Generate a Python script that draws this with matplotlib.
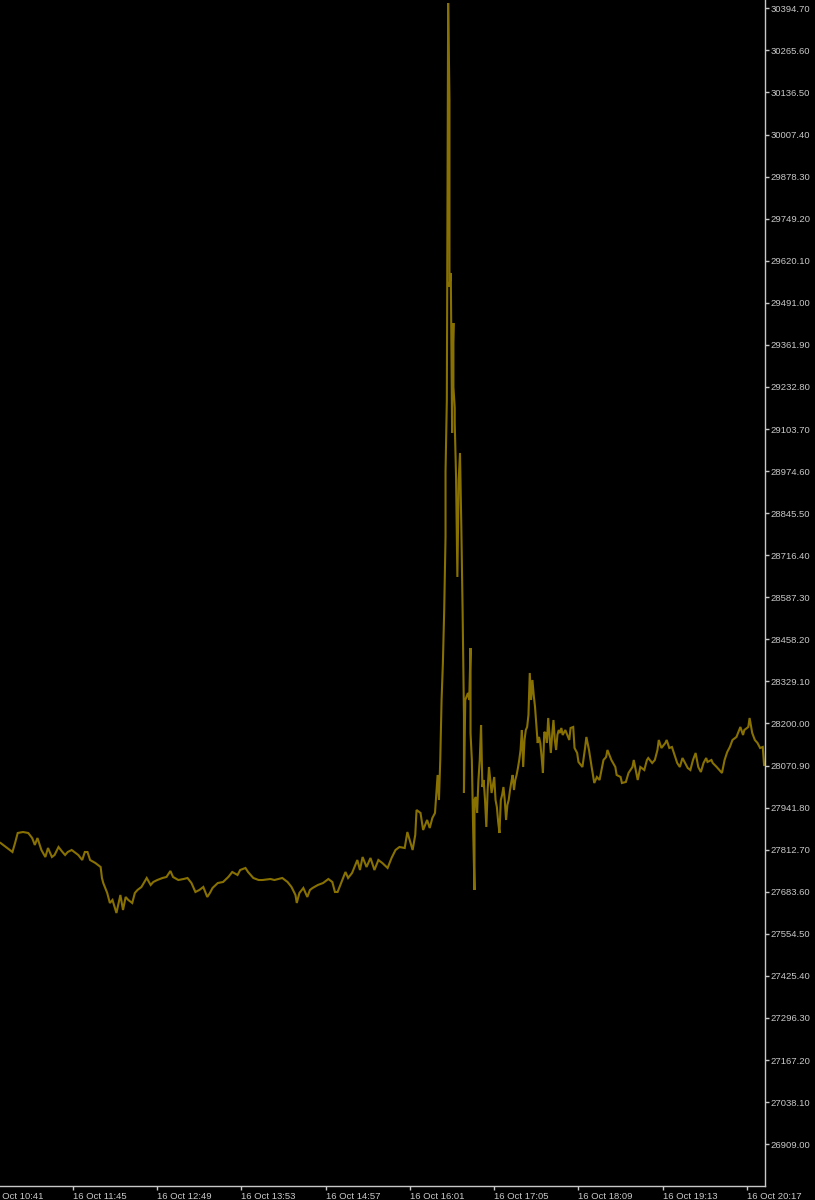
import matplotlib.pyplot as plt

# 1-minute close prices (16 Oct)
times = [
    "10:50", "10:52", "10:55", "10:57", "10:59", "11:01", "11:03", "11:07", "11:11", "11:14",
    "11:16", "11:18", "11:21", "11:24", "11:26", "11:29", "11:31", "11:34", "11:37", "11:39",
    "11:41", "11:44", "11:47", "11:49", "11:52", "11:54", "11:56", "11:58", "12:02", "12:06",
    "12:07", "12:08", "12:11", "12:13", "12:15", "12:18", "12:21", "12:23", "12:25", "12:27",
    "12:30", "12:32", "12:34", "12:37", "12:41", "12:44", "12:46", "12:49", "12:53", "12:56",
    "12:59", "13:01", "13:05", "13:09", "13:12", "13:15", "13:18", "13:21", "13:24", "13:27",
    "13:29", "13:31", "13:35", "13:39", "13:43", "13:46", "13:50", "13:52", "13:56", "13:58",
    "14:02", "14:06", "14:09", "14:15", "14:18", "14:24", "14:28", "14:31", "14:34", "14:35",
    "14:37", "14:40", "14:43", "14:45", "14:47", "14:51", "14:55", "14:59", "15:02", "15:04",
    "15:06", "15:09", "15:12", "15:14", "15:17", "15:21", "15:23", "15:25", "15:28", "15:31",
    "15:34", "15:37", "15:40", "15:44", "15:47", "15:50", "15:53", "15:57", "15:59", "16:03",
    "16:05", "16:06", "16:09", "16:11", "16:14", "16:16", "16:18", "16:20",
    # the spike
    "16:22", "16:23", "16:24", "16:25", "16:26", "16:27", "16:28", "16:28", "16:29", "16:30",
    "16:31", "16:31", "16:32", "16:33", "16:33", "16:34", "16:34", "16:35", "16:35", "16:36",
    "16:37", "16:38", "16:39", "16:40", "16:41", "16:42", "16:42", "16:43", "16:45", "16:46",
    "16:47", "16:47", "16:48", "16:49", "16:50", "16:50", "16:51",
    # aftermath
    "16:52", "16:53", "16:54", "16:55", "16:56", "16:57", "16:58", "16:59", "17:00", "17:01",
    "17:02", "17:03", "17:04", "17:05", "17:06", "17:07", "17:08", "17:09", "17:10", "17:11",
    "17:12", "17:13", "17:14", "17:15", "17:16", "17:17", "17:18", "17:19", "17:20", "17:21",
    "17:22", "17:23", "17:24", "17:25", "17:26", "17:27", "17:28", "17:29", "17:30", "17:31",
    "17:32", "17:33", "17:34", "17:35", "17:36", "17:37", "17:38", "17:39", "17:40", "17:41",
    "17:42", "17:43", "17:44", "17:45", "17:46", "17:47", "17:48", "17:49", "17:50", "17:51",
    "17:52", "17:53", "17:54", "17:55", "17:56", "17:57",
    "17:59", "18:02", "18:03", "18:05", "18:06", "18:08", "18:09", "18:12", "18:14", "18:15",
    "18:17", "18:19", "18:21", "18:23", "18:25", "18:28", "18:30", "18:31", "18:34", "18:37",
    "18:38", "18:41", "18:42", "18:45", "18:47", "18:50", "18:51", "18:53", "18:54", "18:56",
    "18:59", "19:01", "19:02", "19:05", "19:07", "19:09", "19:10", "19:12", "19:15", "19:16",
    "19:18", "19:20", "19:22", "19:24", "19:26", "19:28", "19:30", "19:32", "19:34", "19:36",
    "19:38", "19:40", "19:42", "19:44", "19:46", "19:47", "19:50", "19:51", "19:54", "19:56",
    "19:58", "20:00", "20:02", "20:04", "20:06", "20:09", "20:12", "20:14", "20:15", "20:18",
    "20:19", "20:21", "20:23", "20:25", "20:27", "20:29", "20:30",
]
closes = [
    27833.3, 27827.2, 27817.9, 27811.8, 27805.7, 27833.3, 27864.0, 27867.0, 27864.0, 27848.6,
    27827.2, 27848.6, 27811.8, 27790.3, 27817.9, 27790.3, 27796.5, 27821.0, 27805.7, 27796.5,
    27805.7, 27811.8, 27802.6, 27796.5, 27781.1, 27805.7, 27805.7, 27781.1, 27771.9, 27759.6,
    27725.9, 27710.5, 27679.9, 27649.2, 27658.4, 27618.5, 27673.7, 27627.7, 27667.6, 27658.4,
    27649.2, 27679.9, 27689.1, 27698.3, 27725.9, 27704.4, 27713.6, 27719.7, 27725.9, 27729.0,
    27747.4, 27729.0, 27719.7, 27722.8, 27725.9, 27710.5, 27682.9, 27689.1, 27698.3, 27667.6,
    27679.9, 27695.2, 27710.5, 27713.6, 27729.0, 27744.3, 27735.1, 27750.4, 27756.6, 27744.3,
    27725.9, 27719.7, 27719.7, 27722.8, 27719.7, 27725.9, 27713.6, 27698.3, 27673.7, 27649.2,
    27679.9, 27695.2, 27667.6, 27689.1, 27695.2, 27704.4, 27710.5, 27722.8, 27713.6, 27682.9,
    27682.9, 27713.6, 27744.3, 27725.9, 27741.2, 27781.1, 27750.4, 27790.3, 27759.6, 27787.3,
    27750.4, 27781.1, 27771.9, 27756.6, 27787.3, 27811.8, 27821.0, 27817.9, 27867.0, 27811.8,
    27857.8, 27934.6, 27925.4, 27873.2, 27903.9, 27879.3, 27910.0, 27925.4,
    28042.0, 27965.2, 28088.0, 28272.1, 28385.6, 28548.3, 28772.3, 28971.8, 29192.7, 30411.0,
    30113.3, 29539.5, 29582.4, 29091.5, 29254.1, 29429.0, 29232.6, 29168.2, 29122.1, 28956.4,
    28649.6, 28947.2, 29030.1, 28803.0, 28539.1, 28226.1, 27986.7, 28272.1, 28293.6, 28272.1,
    28431.7, 28170.8, 28088.0, 27873.2, 27689.1, 27965.2, 27974.5,
    27925.4, 28026.6, 28088.0, 28195.4, 28005.1, 28026.6, 27965.2, 27882.4, 27995.9, 28066.5,
    28026.6, 27986.7, 28011.3, 28035.8, 27965.2, 27943.8, 27897.7, 27864.0, 27965.2, 27980.6,
    28005.1, 27965.2, 27903.9, 27949.9, 27965.2, 27995.9, 28020.5, 28042.0, 27995.9, 28026.6,
    28042.0, 28063.4, 28088.0, 28118.7, 28180.0, 28066.5, 28149.4, 28180.0, 28189.3, 28226.1,
    28355.0, 28272.1, 28333.5, 28287.5, 28250.6, 28195.4, 28140.2, 28158.6, 28140.2, 28097.2,
    28048.1, 28173.9, 28170.8, 28140.2, 28216.9, 28164.7, 28109.5, 28164.7, 28210.7, 28149.4,
    28118.7, 28164.7, 28180.0, 28170.8, 28186.2, 28164.7,
    28180.0, 28149.4, 28186.2, 28189.3, 28124.8, 28109.5, 28081.9, 28066.5, 28124.8, 28158.6,
    28118.7, 28066.5, 28017.4, 28035.8, 28026.6, 28088.0, 28097.2, 28118.7, 28088.0, 28066.5,
    28042.0, 28035.8, 28017.4, 28020.5, 28048.1, 28066.5, 28088.0, 28048.1, 28026.6, 28066.5,
    28057.3, 28088.0, 28094.1, 28078.8, 28088.0, 28118.7, 28149.4, 28124.8, 28140.2, 28149.4,
    28124.8, 28127.9, 28103.3, 28078.8, 28066.5, 28094.1, 28078.8, 28063.4, 28057.3, 28088.0,
    28109.5, 28066.5, 28051.2, 28078.8, 28094.1, 28081.9, 28088.0, 28078.8, 28066.5, 28057.3,
    28048.1, 28088.0, 28112.5, 28127.9, 28149.4, 28158.6, 28189.3, 28164.7, 28180.0, 28189.3,
    28216.9, 28170.8, 28149.4, 28140.2, 28124.8, 28127.9, 28072.6,
]

x_labels = ["16 Oct 10:41", "16 Oct 11:45", "16 Oct 12:49", "16 Oct 13:53", "16 Oct 14:57",
            "16 Oct 16:01", "16 Oct 17:05", "16 Oct 18:09", "16 Oct 19:13", "16 Oct 20:17"]
y_first, y_step, y_count = 26909.00, 129.10, 28

LINE = "#887100"
GRID_TXT = "#c8c8c8"
FONT = ["Liberation Sans", "DejaVu Sans"]
X0, X1 = 649.55, 1230.7


def to_min(s):
    h, m = s.split(":")
    return int(h) * 60 + int(m)


mins = [to_min(t) for t in times]
x_ticks = [to_min(lbl.split()[-1]) for lbl in x_labels]
y_ticks = [y_first + i * y_step for i in range(y_count)]

fig = plt.figure(figsize=(8.15, 12), dpi=100, facecolor="black")
ax = fig.add_axes([0, 14 / 1200, 765 / 815, 1186 / 1200], facecolor="black")

ax.plot(mins, closes, color=LINE, linewidth=1.5, solid_joinstyle="miter")

ax.set_xlim(X0, X1)
ax.set_ylim(26780.7, 30420.2)

for side in ["top", "left"]:
    ax.spines[side].set_visible(False)
for side in ["right", "bottom"]:
    ax.spines[side].set_color(GRID_TXT)
    ax.spines[side].set_linewidth(1)

# price scale on the right
ax.yaxis.tick_right()
ax.set_yticks(y_ticks)
ax.set_yticklabels([f"{v:.2f}" for v in y_ticks], family=FONT, fontsize=6.8, color=GRID_TXT)
ax.tick_params(axis="y", direction="out", length=3, width=1, color=GRID_TXT, pad=1)

# time scale, labels sit to the right of their tick
vis = [(t, l) for t, l in zip(x_ticks, x_labels) if t >= X0]
ax.set_xticks([t for t, _ in vis])
ax.set_xticklabels([l for _, l in vis], family=FONT, fontsize=6.8, color=GRID_TXT, ha="left")
ax.tick_params(axis="x", direction="out", length=3, width=1, color=GRID_TXT, pad=1)

# first label's tick is off the left edge, so only its tail shows
for t, l in zip(x_ticks, x_labels):
    if t < X0:
        ax.text(t, -5.6 / 1186, l, transform=ax.get_xaxis_transform(), family=FONT,
                fontsize=6.8, color=GRID_TXT, ha="left", va="top", clip_on=False)

fig.savefig("out.png", dpi=100, facecolor="black")
